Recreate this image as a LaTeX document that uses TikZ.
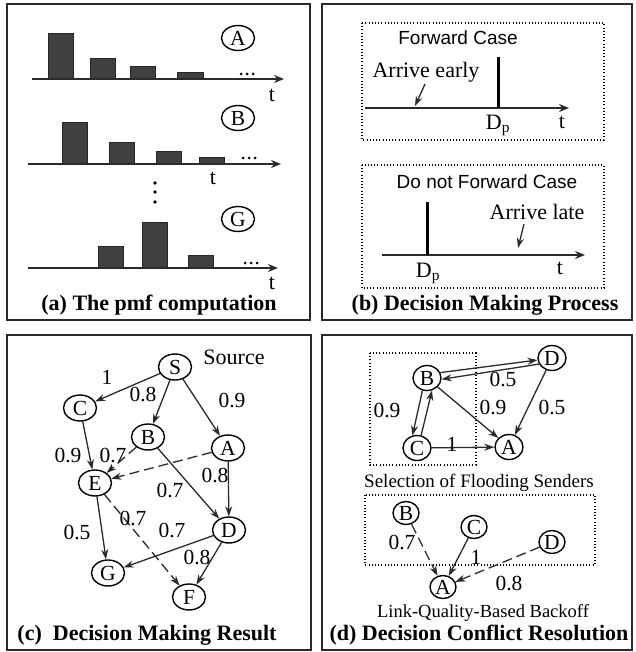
\documentclass[tikz,border=0pt]{standalone}
\usepackage{fontspec}
\setmainfont{Liberation Serif}
\newfontfamily\sansf{Liberation Sans}
\usetikzlibrary{arrows.meta,shapes.geometric,calc}
\definecolor{ink}{HTML}{2A2A2A}
\definecolor{barfill}{HTML}{404040}
\begin{document}
\begin{tikzpicture}[x=1pt,y=-1pt,
  every node/.style={font=\fontsize{21.5}{23}\selectfont, inner sep=0pt},
  panel/.style={draw=ink, line width=1.1pt},
  dotbox/.style={draw=black, line width=1.4pt, dash pattern=on 1pt off 2.2pt},
  axisline/.style={draw=ink, line width=2pt, -{Stealth[length=10pt,width=8pt]}},
  plainaxis/.style={draw=ink, line width=1.8pt, -{Stealth[length=10pt,width=8pt]}},
  bar/.style={fill=barfill, draw=black!85, line width=0.9pt},
  lab/.style={draw=black, line width=1.4pt, ellipse, minimum width=33pt, minimum height=25pt},
  gnode/.style={draw=black, line width=1.4pt, ellipse, minimum width=33pt, minimum height=26pt},
  snode/.style={draw=black, line width=1.4pt, ellipse, minimum width=28pt, minimum height=25pt},
  tnode/.style={draw=black, line width=1.4pt, ellipse, minimum width=26pt, minimum height=23pt},
  captxt/.style={font=\fontsize{22}{24}\selectfont\bfseries},
  txt/.style={font=\fontsize{22}{24}\selectfont},
  sanstxt/.style={font=\fontsize{19}{21}\selectfont\sansf},
  arr/.style={draw=ink, line width=1.3pt, -{Stealth[length=10pt,width=7pt]}},
  darr/.style={arr, dash pattern=on 10pt off 5pt},
  spike/.style={draw=black, line width=3pt},
  dotmark/.style={fill=black, draw=none}
]
\useasboundingbox[fill=white] (0,0) rectangle (635,652);

% ---------------- panel frames
\draw[panel] (7,4) rectangle (310,320);
\draw[panel] (322,4) rectangle (632,320);
\draw[panel] (7,335) rectangle (311,650);
\draw[panel] (322,335) rectangle (632,650);

% ---------------- (a)
% A
\draw[bar] (48,79) rectangle (73,33);
\draw[bar] (90,79) rectangle (115,58);
\draw[bar] (130,79) rectangle (155,66);
\draw[bar] (177,79) rectangle (203,72);
\draw[axisline] (32,79) -- (284,79);
\foreach \x in {241,247,253} \fill[dotmark] (\x,74) circle (1.5);
\node[txt] (ta) at (272,95) {t};
\node[lab] (la) at (238,38) {A};
% B
\draw[bar] (62,164) rectangle (87,122);
\draw[bar] (109,164) rectangle (134,142);
\draw[bar] (156,164) rectangle (181,151);
\draw[bar] (199,164) rectangle (224,157);
\draw[axisline] (28,164) -- (281,164);
\foreach \x in {243,249,255} \fill[dotmark] (\x,158) circle (1.5);
\node[txt] (tb) at (213,178) {t};
\node[lab] (lb) at (238,118) {B};
% vertical dots
\foreach \y in {183,192,202} \fill[dotmark] (155,\y) circle (1.8);
% G
\draw[bar] (98,268) rectangle (123,246);
\draw[bar] (142,268) rectangle (167,222);
\draw[bar] (188,268) rectangle (213,255);
\draw[axisline] (28,268) -- (278,268);
\foreach \x in {245,251,257} \fill[dotmark] (\x,263) circle (1.5);
\node[txt] (tg) at (272,283) {t};
\node[lab] (lg) at (238,219) {G};
\node[captxt] (capa) at (159,305) {(a) The pmf computation};

% ---------------- (b)
\draw[dotbox] (362,23) rectangle (604,140);
\node[sanstxt] (fwd) at (458,38) {Forward Case};
\node[txt] (early) at (426,72) {Arrive early};
\coordinate (earlyend) at (415,106);
\draw[arr] (425,84) -- (earlyend);
\draw[plainaxis] (365,108) -- (569,108);
\draw[spike] (498,57) -- (498,108);
\node[txt] (dp1) at (498,125) {D\textsubscript{p}};
\node[txt] (t1) at (562,122) {t};

\draw[dotbox] (362,165) rectangle (604,288);
\node[sanstxt] (nfwd) at (487,182) {Do not Forward Case};
\node[txt] (late) at (537,212) {Arrive late};
\coordinate (lateend) at (518,248);
\draw[arr] (524,224) -- (lateend);
\draw[plainaxis] (382,255) -- (585,255);
\draw[spike] (427,202) -- (427,255);
\node[txt] (dp2) at (428,273) {D\textsubscript{p}};
\node[txt] (t2) at (560,268) {t};
\node[captxt] (capb) at (485,305) {(b) Decision Making Process};

% ---------------- (c)
\node[gnode] (S) at (175,367) {S};
\node[gnode] (C) at (80,408) {C};
\node[gnode] (B) at (148,437) {B};
\node[gnode] (A) at (228,448) {A};
\node[gnode] (E) at (95,483) {E};
\node[gnode] (D) at (229,530) {D};
\node[gnode] (G) at (108,573) {G};
\node[gnode] (F) at (189,597) {F};
\node[txt] (src) at (234,357) {Source};

\draw[arr] (S) -- (C);
\draw[arr] (S) -- (B);
\draw[arr] (S) -- (A);
\draw[arr] (C) -- (E);
\draw[darr] (B) -- (E);
\draw[darr] (A) -- (E);
\draw[arr] (A) -- (D);
\draw[arr] (B) -- (D);
\draw[arr] (E) -- (G);
\draw[darr] (E) -- (F);
\draw[arr] (D) -- (G);
\draw[arr] (D) -- (F);

\node (l1) at (107,377) {1};
\node (l2) at (143,394) {0.8};
\node (l3) at (232,400) {0.9};
\node (l4) at (68,455) {0.9};
\node (l5) at (113,455) {0.7};
\node (l6) at (215,475) {0.8};
\node (l7) at (170,490) {0.7};
\node (l8) at (77,532) {0.5};
\node (l9) at (133,518) {0.7};
\node (l10) at (172,530) {0.7};
\node (l11) at (197,557) {0.8};
\node[captxt] (capc) at (147,635) {(c)\ \ Decision Making Result};

% ---------------- (d)
\draw[dotbox] (370,353) rectangle (476,465);
\node[snode] (dB) at (427,378) {B};
\node[snode] (dD) at (552,358) {D};
\node[snode] (dC) at (417,448) {C};
\node[snode] (dA) at (509,447) {A};
\draw[arr] (dB.22) -- (dD.188);
\draw[arr] (dD.205) -- (dB.355);
\draw[arr] (dB.250) -- (dC.110);
\draw[arr] (dC.72) -- (dB.292);
\draw[arr] (dB) -- (dA);
\draw[arr] (dD) -- (dA);
\draw[arr] (dC) -- (dA);
\node (m1) at (503,379) {0.5};
\node (m2) at (387,410) {0.9};
\node (m3) at (493,407) {0.9};
\node (m4) at (552,407) {0.5};
\node (m5) at (452,444) {1};
\node[font=\fontsize{19}{21}\selectfont] (selt) at (479,483) {Selection of Flooding Senders};

\draw[dotbox] (365,495) rectangle (595,565);
\node[tnode] (eB) at (406,513) {B};
\node[tnode] (eC) at (474,527) {C};
\node[tnode] (eD) at (552,542) {D};
\node[tnode] (eA) at (443,587) {A};
\draw[darr] (eB) -- (eA);
\draw[arr] (eC) -- (eA);
\draw[darr] (eD) -- (eA);
\node (n1) at (402,542) {0.7};
\node (n2) at (476,557) {1};
\node (n3) at (509,583) {0.8};
\node[font=\fontsize{18.5}{20}\selectfont] (lqt) at (483,613) {Link-Quality-Based Backoff};
\node[captxt] (capd) at (479,635) {(d) Decision Conflict Resolution};
\end{tikzpicture}
\end{document}
